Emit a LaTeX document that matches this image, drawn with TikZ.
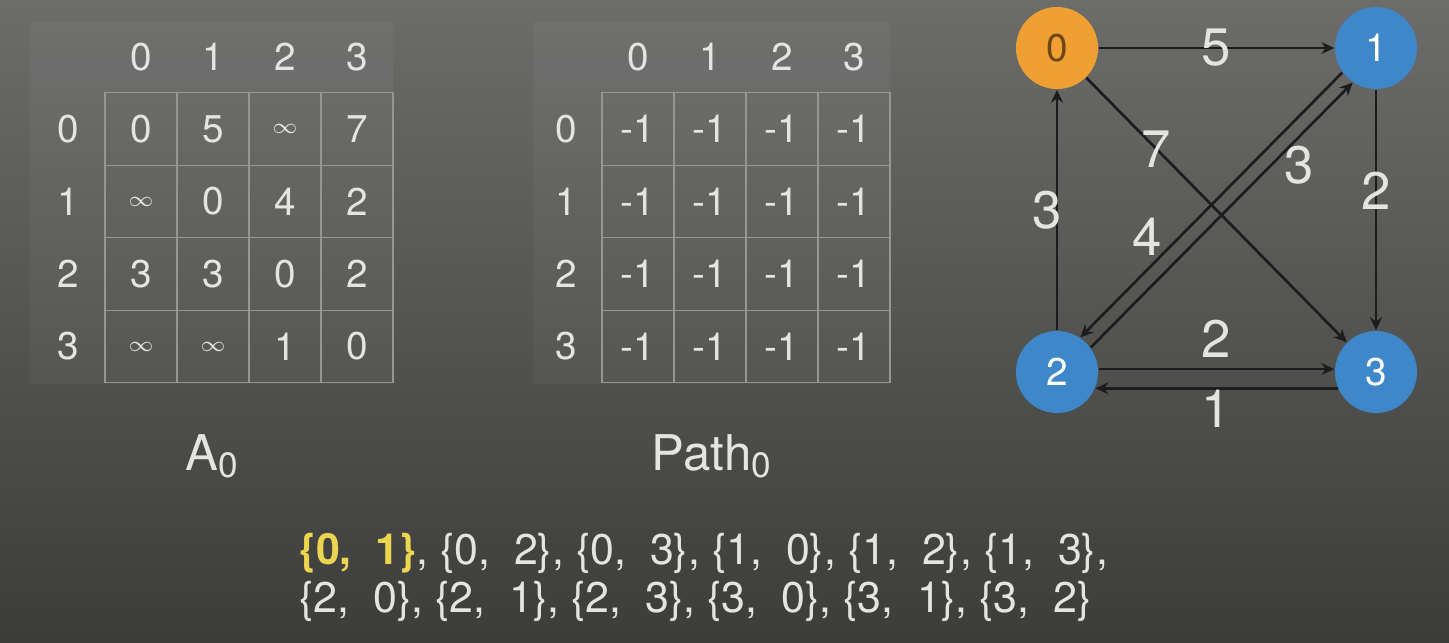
\documentclass[tikz,border=0pt]{standalone}
\usepackage{fontspec}
\setmainfont{TeX Gyre Heros}
\usetikzlibrary{arrows.meta, positioning}
\definecolor{bgtop}{RGB}{108,109,107}
\definecolor{bgbottom}{RGB}{60,61,59}
\definecolor{gridgray}{RGB}{150,151,148}
\definecolor{textwhite}{RGB}{228,228,226}
\definecolor{nodeorange}{RGB}{240,160,50}
\definecolor{nodeblue}{RGB}{62,135,201}
\definecolor{edgeblack}{RGB}{28,28,28}
\definecolor{pairyellow}{RGB}{236,214,80}
\newcommand{\infsym}{{\fontsize{6}{6}\selectfont$\infty$}}
\newcommand{\lowidx}[1]{\raisebox{-0.3ex}{\fontsize{10}{12}\selectfont #1}}

\begin{document}
\begin{tikzpicture}[x=0.01cm, y=-0.01cm,
    panel/.style={fill=white, fill opacity=0.04, inner sep=0pt},
    cell/.style={draw=gridgray, line width=0.4pt, minimum width=7.2mm, minimum height=7.25mm, inner sep=0pt, text=textwhite, font=\fontsize{11}{13}\selectfont},
    head/.style={text=textwhite, font=\fontsize{11}{13}\selectfont},
    title/.style={text=textwhite, font=\fontsize{14}{16}\selectfont},
    vertex/.style={circle, minimum size=8.2mm, inner sep=0pt, text=white, font=\fontsize{11}{13}\selectfont},
    edge/.style={-{Stealth[length=1.3mm, width=1.2mm]}, line width=0.75pt, edgeblack},
    weight/.style={text=textwhite, inner sep=1pt, font=\fontsize{15}{17}\selectfont},
    pairs/.style={text=textwhite, anchor=west, font=\fontsize{12.2}{15}\selectfont}
]

% background
\shade[top color=bgtop, bottom color=bgbottom] (0,0) rectangle (1449,642);
\useasboundingbox (0,0) rectangle (1449,642);

% distance matrix A0
\node[panel, minimum width=3.63cm, minimum height=3.62cm] (apanel) at (211.5,203) {};
\foreach \c in {0,...,3}
    \node[head] (ah-\c) at (141+\c*72,57) {\c};
\foreach \r/\row in {0/{0,5,\infsym,7}, 1/{\infsym,0,4,2}, 2/{3,3,0,2}, 3/{\infsym,\infsym,1,0}} {
    \node[head] (ar-\r) at (68,129+\r*72.5) {\r};
    \foreach \v [count=\c from 0] in \row
        \node[cell] (a-\r-\c) at (141+\c*72,129+\r*72.5) {\v};
}
\node[title, below=3.7mm of apanel] (alabel) {A\lowidx{0}};

% path matrix Path0
\node[panel, minimum width=3.57cm, minimum height=3.62cm] (ppanel) at (711.5,203) {};
\foreach \c in {0,...,3}
    \node[head] (ph-\c) at (638+\c*72,57) {\c};
\foreach \r in {0,...,3} {
    \node[head] (pr-\r) at (566,129+\r*72.5) {\r};
    \foreach \c in {0,...,3}
        \node[cell] (p-\r-\c) at (638+\c*72,129+\r*72.5) {-1};
}
\node[title, below=3.7mm of ppanel] (plabel) {Path\lowidx{0}};

% graph
\node[vertex, fill=nodeorange, text=nodeorange!45!black] (v0) at (1057,48) {0};
\node[vertex, fill=nodeblue] (v1) at (1376,48) {1};
\node[vertex, fill=nodeblue] (v2) at (1057,372) {2};
\node[vertex, fill=nodeblue] (v3) at (1376,372) {3};

\draw[edge] (v0) -- (v1) node[weight, midway] {5};
\draw[edge] (v0) -- (v3) node[weight, pos=0.27] {7};
\draw[edge] (v1) -- (v3) node[weight, pos=0.42] {2};
\draw[edge] (v2) -- (v0) node[weight, midway, xshift=-1mm] {3};
\draw[edge] (v1.216) -- (v2.56) node[weight, pos=0.69, above left=-2pt] {4};
\draw[edge] (v2.36) -- (v1.236) node[weight, pos=0.75, below right=-3pt] {3};
\draw[edge] (v2.4) -- (v3.176) node[weight, midway, above=2pt] {2};
\draw[edge] (v3.203) -- (v2.337) node[weight, midway, below=-1pt] {1};

% pairs still to check
\node[pairs] (pairs1) at (287,553) {{\color{pairyellow}\bfseries\{0,\ \ 1\}}, \{0,\ \ 2\}, \{0,\ \ 3\}, \{1,\ \ 0\}, \{1,\ \ 2\}, \{1,\ \ 3\},};
\node[pairs] (pairs2) at (287,601) {\{2,\ \ 0\}, \{2,\ \ 1\}, \{2,\ \ 3\}, \{3,\ \ 0\}, \{3,\ \ 1\}, \{3,\ \ 2\}};

\end{tikzpicture}
\end{document}
